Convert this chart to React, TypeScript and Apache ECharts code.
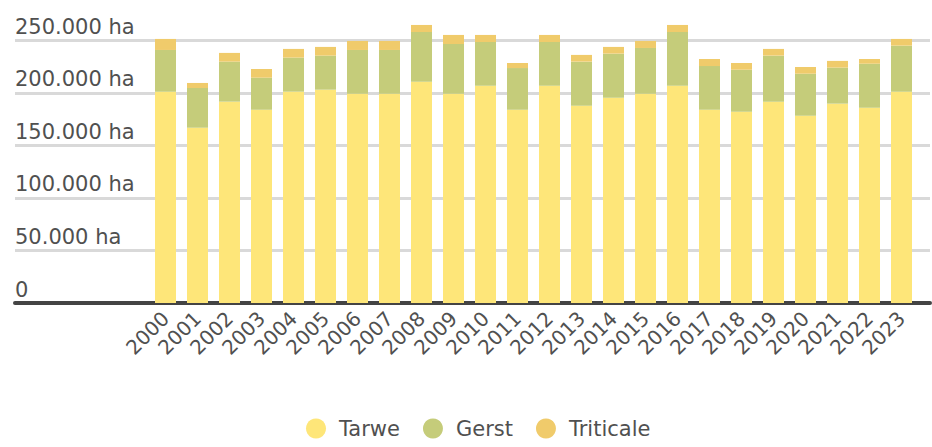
import React, { useEffect, useRef } from "react";
import * as echarts from "echarts";

const years = ["2000","2001","2002","2003","2004","2005","2006","2007","2008","2009","2010","2011","2012","2013","2014","2015","2016","2017","2018","2019","2020","2021","2022","2023"];
const tarwe = [201100,166800,191600,183900,201100,203000,199200,199200,210600,199200,206800,183900,206800,187800,195400,199200,206800,183900,182000,191600,178200,189700,185800,201100];
const gerst = [39700,37800,38100,30500,32400,32400,41600,41600,47300,47300,41600,39700,41600,41900,41900,43500,51100,41600,40000,43800,40000,34300,41900,43800];
const triticale = [10500,4800,8300,8300,8300,8300,8600,8600,6700,8600,6700,4800,6700,6400,6400,6700,6700,6700,6400,6400,6400,6400,4500,6400];
const yTickLabels = ["0","50.000 ha","100.000 ha","150.000 ha","200.000 ha","250.000 ha"];
const seriesNames = ["Tarwe","Gerst","Triticale"];
const colors = ["#FEE679","#C5CC7A","#F0CB6B"];

const FONT = "DejaVu Sans";

export default function App() {
  const ref = useRef<HTMLDivElement>(null);
  useEffect(() => {
    if (!ref.current) return;
    const chart = echarts.init(ref.current, null, { renderer: "svg" });
    const top = 40.3;
    const bottom = 447 - 303;
    chart.setOption({
      animation: false,
      backgroundColor: "#ffffff",
      color: colors,
      textStyle: { fontFamily: FONT },
      grid: [
        { left: 15, right: 2, top, bottom },
        { left: 149.5, width: 768, top, bottom },
      ],
      legend: {
        data: seriesNames,
        left: 301,
        top: 413,
        icon: "circle",
        itemWidth: 20,
        itemHeight: 20,
        itemGap: 23,
        textStyle: { fontSize: 21, color: "#505050", fontFamily: FONT, padding: [0, 0, 0, 8] },
      },
      xAxis: [
        {
          gridIndex: 0,
          type: "category",
          data: [""],
          axisTick: { show: false },
          axisLabel: { show: false },
          axisLine: { show: true, lineStyle: { color: "#444444", width: 4 } },
          splitLine: { show: false },
        },
        {
          gridIndex: 1,
          type: "category",
          data: years,
          axisTick: { show: false },
          axisLine: { show: false },
          axisLabel: {
            rotate: 45,
            margin: 12,
            fontSize: 20,
            color: "#505050",
            fontFamily: FONT,
            interval: 0,
          },
        },
      ],
      yAxis: [
        {
          gridIndex: 0,
          type: "value",
          min: 0,
          max: 250000,
          interval: 50000,
          axisLine: { show: false },
          axisTick: { show: false },
          splitLine: { show: true, lineStyle: { color: "#D9D9D9", width: 3 } },
          axisLabel: {
            inside: true,
            margin: 0,
            verticalAlign: "bottom",
            fontSize: 21,
            color: "#505050",
            fontFamily: FONT,
            padding: [0, 0, 3, 0],
            formatter: (v: number) => yTickLabels[Math.round(v / 50000)],
          },
        },
        {
          gridIndex: 1,
          type: "value",
          min: 0,
          max: 250000,
          interval: 50000,
          show: false,
          splitLine: { show: false },
        },
      ],
      series: [tarwe, gerst, triticale].map((d, i) => ({
        name: seriesNames[i],
        type: "bar",
        stack: "total",
        xAxisIndex: 1,
        yAxisIndex: 1,
        barWidth: 21,
        clip: false,
        data: d,
        itemStyle: { color: colors[i] },
      })),
    });
    return () => chart.dispose();
  }, []);
  return <div ref={ref} style={{ position: "fixed", left: 0, top: 0, width: 932, height: 447 }} />;
}
